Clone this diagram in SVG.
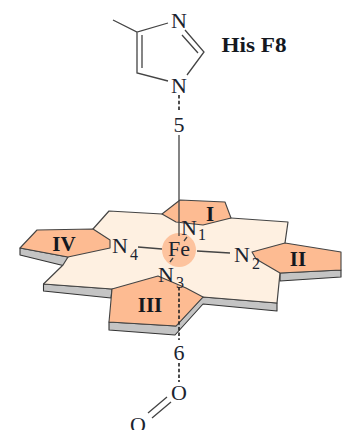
<svg xmlns="http://www.w3.org/2000/svg" width="349" height="430" viewBox="0 0 349 430">
<style>
.t{font-family:"Liberation Serif","DejaVu Serif",serif;fill:#1c2430}
.a{font-size:22px;text-anchor:middle}
.s{font-size:16px;text-anchor:middle}
.b{font-family:"Liberation Serif","DejaVu Serif",serif;font-weight:bold;fill:#14181f;font-size:21px;text-anchor:middle}
.l{stroke:#444;stroke-width:1.3;fill:none}
.d{stroke:#222;stroke-width:1.6;fill:none;stroke-dasharray:3.5 2.2}
.g{fill:#c4c4c4;stroke:#333;stroke-width:1.1;stroke-linejoin:round}
.c{fill:#fef0e1;stroke:#444;stroke-width:1.2;stroke-linejoin:round}
.o{fill:#fdbb92;stroke:#444;stroke-width:1.1;stroke-linejoin:round}
</style>
<g id="connectors">
<path class="l" d="M113 20L137 32L168 23M137 32L137 73L168 81M142 35L142 68M185 30L204 52L187 75M182 35L198 53"/>
<path class="d" d="M179 95V112"/>
<path class="l" d="M167 397L148 413M171 402L152 418"/>
</g>
<g id="porphyrin">
<path class="g" d="M20 248L20 255L65 266L68 257Z"/>
<path class="g" d="M43.500 284L43.500 291L111 298L112 289Z"/>
<path class="g" d="M109 322L109 330L175 335L203 304L277 311L277 303L203 297L176 326Z"/>
<path class="g" d="M280 273L280 281L341 277L341 270Z"/>
<path class="c" d="M93 229L109 211L162 214L231 218L288 222L285 243L280 273L277 303L203 297L112 289L43.500 284L63 265L68 257Z"/>
</g>
<g id="ring-I"><path class="o" d="M162 214L180 200L225 202L231 218L203 225L176 222Z"/><text class="b" x="210" y="221">I</text></g>
<g id="ring-II"><path class="o" d="M285 243L341 252L341 270L280 273L256 259L252 252Z"/><text class="b" x="298" y="266">II</text></g>
<g id="ring-III"><path class="o" d="M112 289L158 276L186 288L203 297L176 326L109 322Z"/><text class="b" x="150" y="312">III</text></g>
<g id="ring-IV"><path class="o" d="M20 248L37 230L93 229L110 240L110 248L68 257Z"/><text class="b" x="64" y="251">IV</text></g>
<g id="fe"><circle cx="179" cy="250" r="17" fill="#fdbb92" fill-opacity=".85"/></g>
<g id="fe-bonds"><path class="l" d="M179 135V236M138 247L162 249M197 251L230 253M184 241L187 237M170 262L173 258"/><path class="d" d="M179 287V340"/><path class="d" d="M179 363V382"/></g>
<g id="fe-label"><text class="t a" x="179" y="256">Fe</text></g>
<g id="n1"><text class="t a" x="189" y="235">N</text><text class="t s" x="202" y="240">1</text></g>
<g id="n2"><text class="t a" x="242" y="262">N</text><text class="t s" x="256" y="269">2</text></g>
<g id="n3"><text class="t a" x="166" y="282">N</text><text class="t s" x="180" y="288">3</text></g>
<g id="n4"><text class="t a" x="120" y="253">N</text><text class="t s" x="134" y="260">4</text></g>
<g id="imidazole"><text class="t a" x="179" y="28">N</text><text class="t a" x="179" y="93">N</text><text class="b" x="254" y="52" textLength="65" lengthAdjust="spacingAndGlyphs">His F8</text></g>
<g id="label-5"><text class="t a" x="179" y="132">5</text></g>
<g id="label-6"><text class="t a" x="179" y="360">6</text></g>
<g id="o1"><text class="t a" x="179" y="400">O</text></g>
<g id="o2"><text class="t a" x="138" y="432">O</text></g>
</svg>
